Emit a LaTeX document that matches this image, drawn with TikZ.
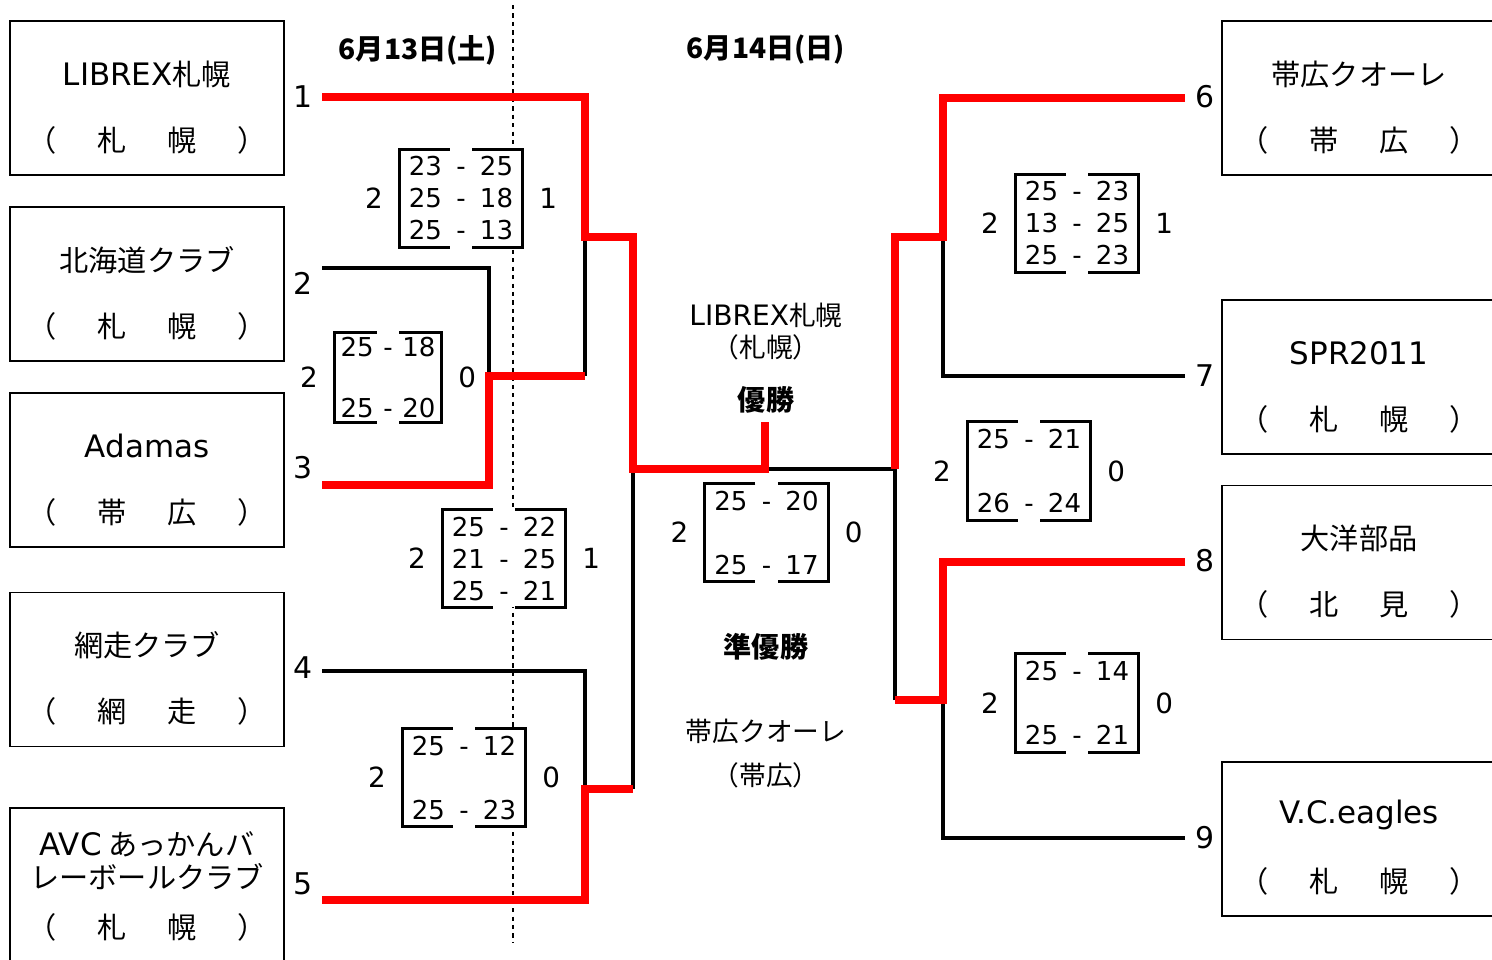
\documentclass[tikz,border=0pt]{standalone}
\usepackage{fontspec}
\setmainfont{Noto Sans CJK JP}
\newfontfamily\lat{DejaVu Sans}
\usetikzlibrary{positioning}

\tikzset{
  team/.style={draw, line width=0.4pt, minimum width=2.74cm, minimum height=1.54cm},
  tname/.style={align=center, font=\fontsize{8.3}{9.4}\selectfont},
  tloc/.style={inner sep=0pt, font=\fontsize{8.3}{9.4}\selectfont},
  seed/.style={inner sep=1pt, font=\fontsize{8.5}{10}\selectfont\lat},
  win/.style={draw=red, line width=2.1pt},
  lose/.style={draw=black, line width=0.95pt},
  sbox/.style={fill=white, inner sep=0pt, minimum width=1.22cm, minimum height=0.97cm, align=center, font=\fontsize{7.4}{9.1}\selectfont\lat},
  sline/.style={line width=0.85pt},
  side/.style={inner sep=1pt, font=\fontsize{7.9}{10}\selectfont\lat},
  head/.style={font=\fontsize{8}{10}\selectfont\bfseries},
  ctext/.style={font=\fontsize{7.6}{9}\selectfont},
  daydiv/.style={line width=0.4pt, dash pattern=on 1.2pt off 1.2pt}
}

% latin part of a name
\newcommand\ltn[2][8.8]{{\lat\fontsize{#1}{9.4}\selectfont #2}}

% one row of set scores
\newcommand\sset[3][14.2pt]{\makebox[#1]{#2}\makebox[6pt]{-}\makebox[#1]{#3}}

% team box: name, x, y, team, place 1, place 2
\newcommand\teambox[6]{%
  \node[team] (#1) at (#2,#3) {};
  \node[tname] (#1name) at (#2,#3-24) {#4};
  \node[tloc] (#1loc) at (#2,#3+42) {\makebox[0.7cm]{（}\makebox[0.7cm]{#5}\makebox[0.7cm]{#6}\makebox[0.7cm]{）}};
}

% score box: name, position, options, sets, left, right
\newcommand\scorebox[6]{%
  \node[sbox,#3] (#1) at #2 {#4};
  \draw[sline] ([xshift=-3.2pt]#1.north) -| (#1.south west) -- ([xshift=-3.2pt]#1.south);
  \draw[sline] ([xshift=3.2pt]#1.north) -| (#1.south east) -- ([xshift=3.2pt]#1.south);
  \node[side, left=3.5pt of #1] (#1l) {#5};
  \node[side, right=3.5pt of #1] (#1r) {#6};
}

\begin{document}
\begin{tikzpicture}[x=0.01cm, y=-0.01cm]
  \useasboundingbox (0,0) rectangle (1492,959);
  \clip (0,0) rectangle (1492,959);

  % Day divider
  \draw[daydiv] (513,5) -- (513,942);

  % Headers
  \node[head] (day1) at (418,50) {6月13日(土)};
  \node[head] (day2) at (766,50) {6月14日(日)};

  % Teams
  \teambox{t1}{147}{98}{\ltn{LIBREX}札幌}{札}{幌}
  \teambox{t2}{147}{284}{北海道クラブ}{札}{幌}
  \teambox{t3}{147}{470}{\ltn{Adamas}}{帯}{広}
  \teambox{t4}{147}{669.5}{網走クラブ}{網}{走}
  \teambox{t5}{147}{885}{\ltn{AVC} あっかんバ\\レーボールクラブ}{札}{幌}
  \teambox{t6}{1359}{98}{帯広クオーレ}{帯}{広}
  \teambox{t7}{1359}{377}{\ltn{SPR2011}}{札}{幌}
  \teambox{t8}{1359}{562.5}{大洋部品}{北}{見}
  \teambox{t9}{1359}{839}{\ltn{V.C.eagles}}{札}{幌}

  % Seeds
  \node[seed] (s1) at (303,97) {1};
  \node[seed] (s2) at (303,283) {2};
  \node[seed] (s3) at (303,468) {3};
  \node[seed] (s4) at (303,668) {4};
  \node[seed] (s5) at (303,884) {5};
  \node[seed] (s6) at (1205,97) {6};
  \node[seed] (s7) at (1205,376) {7};
  \node[seed] (s8) at (1205,561) {8};
  \node[seed] (s9) at (1205,838) {9};

  % Bracket points
  \coordinate (a1) at (322,97);
  \coordinate (a2) at (322,268);
  \coordinate (a3) at (322,485);
  \coordinate (a4) at (322,671);
  \coordinate (a5) at (322,900);
  \coordinate (b6) at (1185,98);
  \coordinate (b7) at (1185,376);
  \coordinate (b8) at (1185,562);
  \coordinate (b9) at (1185,838);
  \coordinate (j23) at (489,376);
  \coordinate (j123) at (585,237);
  \coordinate (j45) at (585,789);
  \coordinate (jL) at (633,469);
  \coordinate (jF) at (765,469);
  \coordinate (cw) at (765,422);
  \coordinate (j67) at (943,237);
  \coordinate (j89) at (943,700);
  \coordinate (jR) at (895,469);

  % Lost
  \draw[lose] (a2) -| (j23);
  \draw[lose] (j23 -| j123) -- (j123);
  \draw[lose] (a4) -| (j45);
  \draw[lose] (j45 -| jL) -- (jL);
  \draw[lose] (jF) -- (jR);
  \draw[lose] (b7) -| (j67);
  \draw[lose] (j89 -| jR) -- (jR);
  \draw[lose] (b9) -| (j89);

  % Won
  \draw[win] (a1) -| (j123) -- (j123 -| jL) |- (jF) -- (cw);
  \draw[win] (a3) -| (j23) -- (j23 -| j123);
  \draw[win] (a5) -| (j45) -- (j45 -| jL);
  \draw[win] (b6) -| (j67) -- (j67 -| jR) -- (jR);
  \draw[win] (b8) -| (j89) -- (j89 -| jR);

  % Scores
  \scorebox{sA}{(461,198.5)}{}{\sset{23}{25}\\\sset{25}{18}\\\sset{25}{13}}{2}{1}
  \scorebox{sB}{(388,377.5)}{minimum width=1.06cm, minimum height=0.89cm}{\sset[11.6pt]{25}{18}\\[8.5pt]\sset[11.6pt]{25}{20}}{2}{0}
  \scorebox{sC}{(504,558.5)}{}{\sset{25}{22}\\\sset{21}{25}\\\sset{25}{21}}{2}{1}
  \scorebox{sD}{(464,777.5)}{}{\sset{25}{12}\\[9.1pt]\sset{25}{23}}{2}{0}
  \scorebox{sE}{(766.5,532.5)}{}{\sset{25}{20}\\[9.1pt]\sset{25}{17}}{2}{0}
  \scorebox{sF}{(1077,223.5)}{}{\sset{25}{23}\\\sset{13}{25}\\\sset{25}{23}}{2}{1}
  \scorebox{sG}{(1029,471)}{}{\sset{25}{21}\\[9.1pt]\sset{26}{24}}{2}{0}
  \scorebox{sH}{(1077,703)}{}{\sset{25}{14}\\[9.1pt]\sset{25}{21}}{2}{0}

  % Results
  \node[ctext] (champ) at (766,315) {\ltn[8]{LIBREX}札幌};
  \node[ctext] (champloc) at (766,347) {（札幌）};
  \node[head] (first) at (766,400) {優勝};
  \node[head] (second) at (766,647) {準優勝};
  \node[ctext] (runner) at (766,731) {帯広クオーレ};
  \node[ctext] (runnerloc) at (766,775) {（帯広）};
\end{tikzpicture}
\end{document}
